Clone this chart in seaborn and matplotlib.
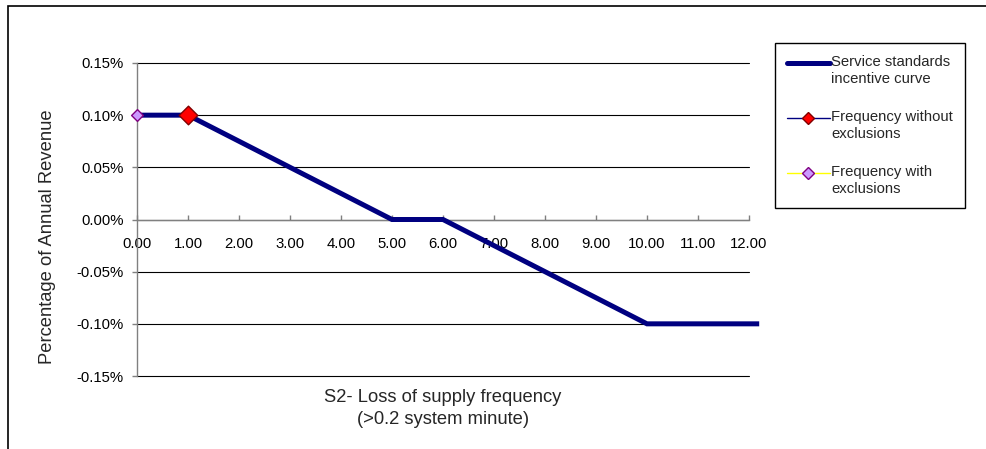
import matplotlib
matplotlib.use("Agg")
import matplotlib.pyplot as plt
from matplotlib.lines import Line2D
from matplotlib.patches import Rectangle
from matplotlib.legend_handler import HandlerLine2D
from matplotlib.ticker import FixedLocator, FixedFormatter
import seaborn as sns
import pandas as pd

# Incentive curve: loss-of-supply frequency vs. percentage of annual revenue
curve_x = [0.0, 1.0, 5.0, 6.0, 10.0, 12.2]
curve_y = [0.10, 0.10, 0.00, 0.00, -0.10, -0.10]

# Observed performance points
freq_without_x = [1.0]
freq_without_y = [0.10]
freq_with_x = [0.0]
freq_with_y = [0.10]

x_ticks = [0, 1, 2, 3, 4, 5, 6, 7, 8, 9, 10, 11, 12]
x_tick_labels = ["0.00", "1.00", "2.00", "3.00", "4.00", "5.00", "6.00",
                 "7.00", "8.00", "9.00", "10.00", "11.00", "12.00"]
y_ticks = [-0.15, -0.10, -0.05, 0.00, 0.05, 0.10, 0.15]
y_tick_labels = ["-0.15%", "-0.10%", "-0.05%", "0.00%", "0.05%", "0.10%", "0.15%"]

series_names = ["Service standards\nincentive curve",
                "Frequency without\nexclusions",
                "Frequency with\nexclusions"]


class RaisedLineHandler(HandlerLine2D):
    """Legend handler that lines the sample up with the first text line."""

    def __init__(self, raise_pts, **kwargs):
        super().__init__(**kwargs)
        self.raise_pts = raise_pts

    def create_artists(self, legend, orig_handle, xdescent, ydescent,
                       width, height, fontsize, trans):
        return super().create_artists(legend, orig_handle, xdescent,
                                      ydescent - 2 * self.raise_pts,
                                      width, height, fontsize, trans)


sns.set_style("white")
plt.rcParams["font.family"] = ["Liberation Sans", "DejaVu Sans"]

fig = plt.figure(figsize=(9.86, 4.49), dpi=100)
ax = fig.add_axes([137 / 986, 1 - 376 / 449, 612 / 986, 313 / 449])

NAVY = "#000080"

curve = pd.DataFrame({"x": curve_x, "y": curve_y})
sns.lineplot(data=curve, x="x", y="y", ax=ax, color=NAVY, linewidth=3.6,
             sort=False, zorder=3, legend=False)
for ln in ax.lines:
    ln.set_clip_on(False)
    ln.set_solid_capstyle("butt")
    ln.set_solid_joinstyle("miter")

sns.scatterplot(x=freq_with_x, y=freq_with_y, ax=ax, marker="D", s=36,
                color="#CC99FF", edgecolor="#800080", linewidth=1.0,
                zorder=5, clip_on=False, legend=False)
sns.scatterplot(x=freq_without_x, y=freq_without_y, ax=ax, marker="D", s=90,
                color="#FF0000", edgecolor="#800000", linewidth=1.0,
                zorder=6, clip_on=False, legend=False)

ax.set_xlim(0, 12)
ax.set_ylim(-0.15, 0.15)

# Horizontal gridlines
ax.yaxis.set_major_locator(FixedLocator(y_ticks))
ax.yaxis.set_major_formatter(FixedFormatter(y_tick_labels))
ax.grid(axis="y", color="#000000", linewidth=0.8)
ax.grid(axis="x", visible=False)
ax.set_axisbelow(True)
for gl in ax.yaxis.get_gridlines():
    gl.set_clip_on(False)

ax.xaxis.set_major_locator(FixedLocator(x_ticks))
ax.xaxis.set_major_formatter(FixedFormatter(x_tick_labels))

for side in ["top", "right"]:
    ax.spines[side].set_visible(False)
ax.spines["left"].set_color("#808080")
ax.spines["left"].set_linewidth(1.0)
ax.spines["bottom"].set_position(("data", 0))
ax.spines["bottom"].set_color("#808080")
ax.spines["bottom"].set_linewidth(1.0)
ax.spines["bottom"].set_zorder(2)

ax.tick_params(axis="x", direction="in", length=3.5, width=1, color="#808080",
               pad=12.5, labelsize=10.7, labelcolor="black", bottom=True)
ax.tick_params(axis="y", direction="out", length=3.5, width=1, color="#808080",
               pad=6, labelsize=10.7, labelcolor="black", left=True)

ax.set_xlabel("S2- Loss of supply frequency\n(>0.2 system minute)",
              fontsize=13.2, linespacing=1.4)
ax.xaxis.set_label_coords(0.5, -0.04)
ax.set_ylabel("Percentage of Annual Revenue", fontsize=13.2)
ax.yaxis.set_label_coords(-0.133, 0.444)

handles = [
    Line2D([], [], color=NAVY, linewidth=3.6, solid_capstyle="round"),
    Line2D([], [], color=NAVY, linewidth=1.0, marker="D", markersize=6,
           markerfacecolor="#FF0000", markeredgecolor="#800000"),
    Line2D([], [], color="#FFFF00", linewidth=1.0, marker="D", markersize=6,
           markerfacecolor="#CC99FF", markeredgecolor="#800080"),
]
leg = fig.legend(handles, series_names, loc="upper left",
                 bbox_to_anchor=(775 / 986, 1 - 43 / 449),
                 bbox_transform=fig.transFigure, borderaxespad=0,
                 fontsize=10.7, frameon=True, fancybox=False, shadow=False,
                 edgecolor="black", framealpha=1, handlelength=2.9,
                 handletextpad=0.1, labelspacing=1.6, borderpad=0.8,
                 handler_map={Line2D: RaisedLineHandler(5.8)})
leg.get_frame().set_linewidth(1.0)
for t in leg.get_texts():
    t.set_linespacing(1.3)

# Chart-area border
fig.patches.append(Rectangle((8 / 986, -0.2), 1.2, 1.2 - 6 / 449,
                             transform=fig.transFigure, fill=False,
                             edgecolor="black", linewidth=1.2))

fig.savefig("out.png", dpi=100)
